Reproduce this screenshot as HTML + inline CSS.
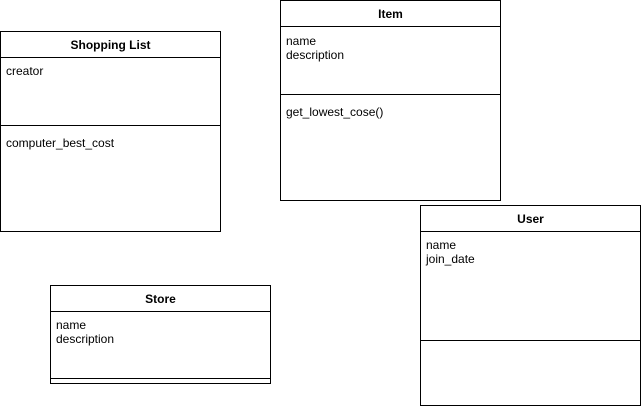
<!DOCTYPE html>
<html><head><style>body{margin:0;background:#fff}svg{display:block}</style></head><body>
<svg width="641" height="406" xmlns="http://www.w3.org/2000/svg" font-family="Liberation Sans, Arial, sans-serif" font-size="12" fill="#000">
<g fill="none" stroke="#000" stroke-width="1">
<rect x="0.5" y="31.5" width="220" height="200"/><line x1="0.5" y1="57.5" x2="220.5" y2="57.5"/><line x1="0.5" y1="125.5" x2="220.5" y2="125.5"/>
<rect x="280.5" y="0.5" width="220" height="200"/><line x1="280.5" y1="26.5" x2="500.5" y2="26.5"/><line x1="280.5" y1="94.5" x2="500.5" y2="94.5"/>
<rect x="420.5" y="205.5" width="220" height="200"/><line x1="420.5" y1="231.5" x2="640.5" y2="231.5"/><line x1="420.5" y1="340.5" x2="640.5" y2="340.5"/>
<rect x="50.5" y="285.5" width="220" height="98"/><line x1="50.5" y1="311.5" x2="270.5" y2="311.5"/><line x1="50.5" y1="378.5" x2="270.5" y2="378.5"/>
</g>
<g font-weight="bold" text-anchor="middle">
<text x="110.5" y="49">Shopping List</text>
<text x="390.5" y="18">Item</text>
<text x="530.5" y="223">User</text>
<text x="160.5" y="303">Store</text>
</g>
<text x="6" y="75">creator</text>
<text x="6" y="147">computer_best_cost</text>
<text x="286" y="45">name</text><text x="286" y="59">description</text>
<text x="286" y="116">get_lowest_cose()</text>
<text x="426" y="249">name</text><text x="426" y="263">join_date</text>
<text x="56" y="329">name</text><text x="56" y="343">description</text>
</svg>
</body></html>
